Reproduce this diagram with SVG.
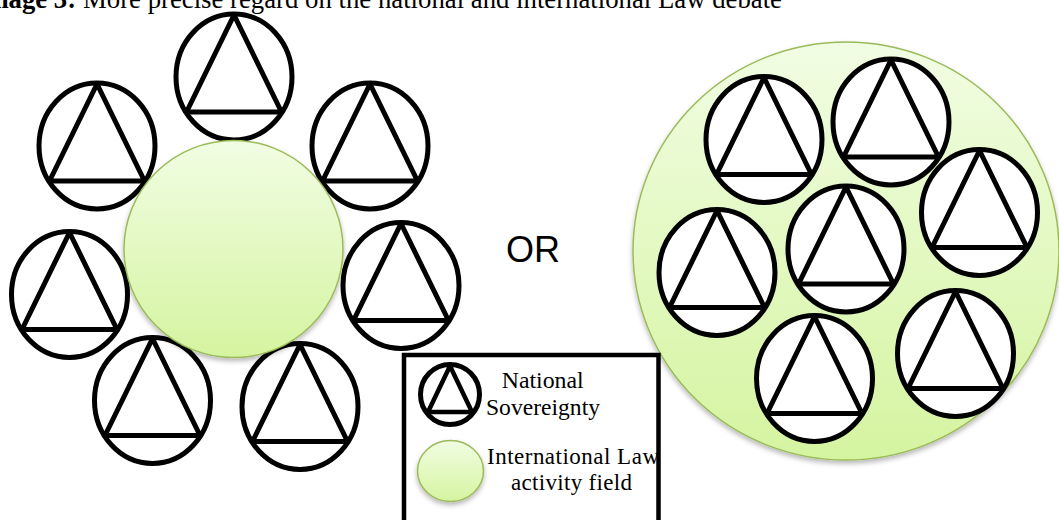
<svg xmlns="http://www.w3.org/2000/svg" xmlns:xlink="http://www.w3.org/1999/xlink" width="1059" height="520" viewBox="0 0 1059 520">
<style>
.serif{font-family:"Liberation Serif","Times New Roman",serif;fill:#000}
.sans{font-family:"Liberation Sans",Arial,sans-serif;fill:#000}
.ring{fill:#fff;stroke:#000;stroke-width:5}
.tri{fill:none;stroke:#000;stroke-width:5;stroke-linejoin:round}
.field{fill:url(#gr);stroke:#9bbb59;stroke-width:1.5;filter:url(#sh)}
</style>
<defs>
<linearGradient id="gr" x1="0" y1="0" x2="0" y2="1">
<stop offset="0" stop-color="#f1fde3"/>
<stop offset="1" stop-color="#d5f4a0"/>
</linearGradient>
<filter id="sh" x="-10%" y="-10%" width="120%" height="125%">
<feDropShadow dx="0" dy="3" stdDeviation="2.5" flood-color="#000" flood-opacity="0.28"/>
</filter>
<g id="sym">
<ellipse class="ring" cx="0" cy="0" rx="58" ry="63"/>
<path class="tri" d="M0,-62 L-47.5,35 L47.5,35 Z"/>
</g>
</defs>
<rect width="1059" height="520" fill="#fff"/>
<g id="title">
<text class="serif" x="-24" y="8" font-size="26.7" font-weight="bold">Image 3:</text>
<text class="serif" x="83" y="8" font-size="26.7" textLength="699" lengthAdjust="spacingAndGlyphs">More precise regard on the national and international Law debate</text>
</g>
<g id="left-sovereignties">
<use id="ns-l1" xlink:href="#sym" href="#sym" x="234" y="77"/>
<use id="ns-l2" xlink:href="#sym" href="#sym" x="97" y="146"/>
<use id="ns-l3" xlink:href="#sym" href="#sym" x="370" y="146"/>
<use id="ns-l4" xlink:href="#sym" href="#sym" x="69.5" y="294.5"/>
<use id="ns-l5" xlink:href="#sym" href="#sym" x="401" y="285.5"/>
<use id="ns-l6" xlink:href="#sym" href="#sym" x="152.5" y="400.5"/>
<use id="ns-l7" xlink:href="#sym" href="#sym" x="300" y="406.5"/>
</g>
<g id="left-field">
<ellipse class="field" cx="233.5" cy="249" rx="109.5" ry="108.5"/>
</g>
<g id="or">
<text class="sans" x="506" y="262" font-size="36">OR</text>
</g>
<g id="right-field">
<ellipse class="field" cx="846" cy="251" rx="213" ry="209"/>
</g>
<g id="right-sovereignties">
<use id="ns-r1" xlink:href="#sym" href="#sym" x="764" y="139.5"/>
<use id="ns-r2" xlink:href="#sym" href="#sym" x="891" y="122"/>
<use id="ns-r3" xlink:href="#sym" href="#sym" x="979.5" y="212.5"/>
<use id="ns-r4" xlink:href="#sym" href="#sym" x="846" y="249"/>
<use id="ns-r5" xlink:href="#sym" href="#sym" x="717" y="272.5"/>
<use id="ns-r6" xlink:href="#sym" href="#sym" x="814.5" y="378.5"/>
<use id="ns-r7" xlink:href="#sym" href="#sym" x="955.5" y="353.5"/>
</g>
<g id="legend">
<rect x="404" y="355" width="254.5" height="180" fill="#fff" stroke="none"/>
<ellipse class="ring" cx="450" cy="394.5" rx="29.5" ry="30"/>
<path class="tri" d="M450,366 L428,412 L472,412 Z" style="stroke-width:4.5"/>
<text class="serif" x="501.7" y="388" font-size="23" textLength="82" lengthAdjust="spacingAndGlyphs">National</text>
<text class="serif" x="486" y="415" font-size="23" textLength="114" lengthAdjust="spacingAndGlyphs">Sovereignty</text>
<ellipse class="field" cx="450.5" cy="471" rx="33" ry="30.5"/>
<text class="serif" x="487" y="464" font-size="23" textLength="172" lengthAdjust="spacing">International Law</text>
<text class="serif" x="511" y="490" font-size="23" textLength="121" lengthAdjust="spacing">activity field</text>
<rect x="404" y="355" width="254.5" height="180" fill="none" stroke="#000" stroke-width="4.5"/>
</g>
</svg>
